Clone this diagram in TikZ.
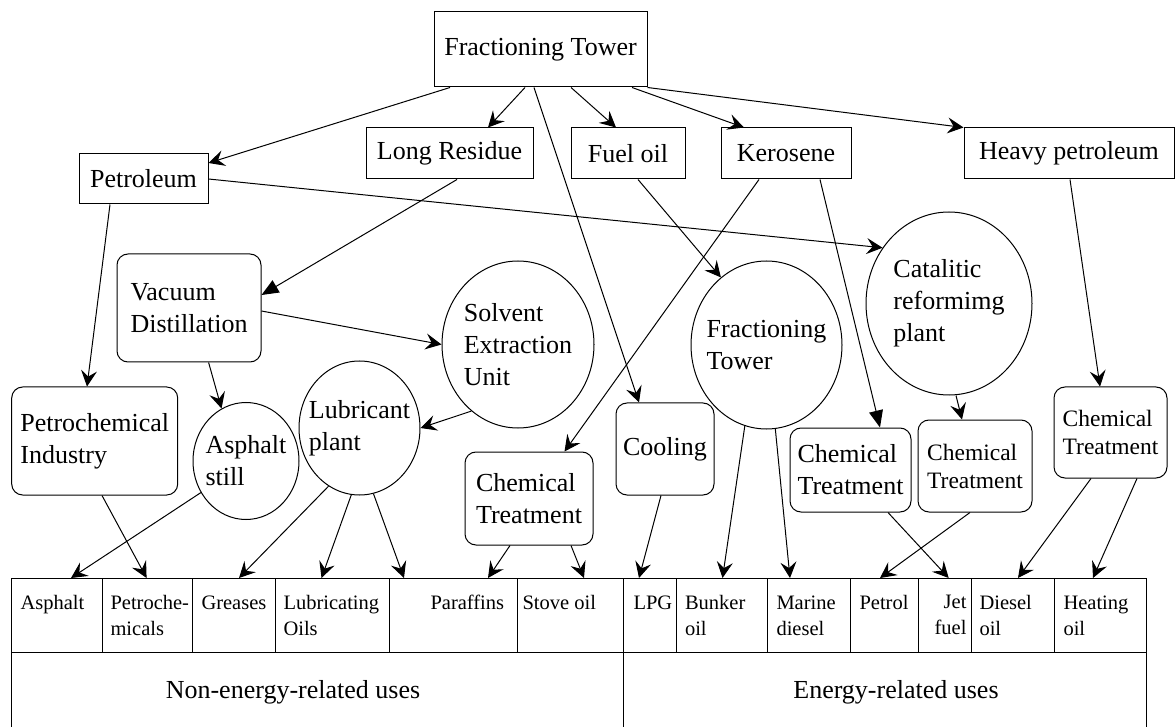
\documentclass[tikz,border=0pt]{standalone}
\usepackage{fontspec}
\setmainfont{Liberation Serif}
\usetikzlibrary{arrows.meta,shapes.geometric}

\begin{document}
\begin{tikzpicture}[x=1pt, y=-1pt, line width=1pt,
    >={Stealth[length=16pt,width=16pt,inset=6pt]},
    big/.style={font=\fontsize{26}{32}\selectfont},
    small/.style={font=\fontsize{23.5}{28}\selectfont},
    box/.style={draw, big, inner sep=0pt},
    rbox/.style={box, rounded corners=11pt, align=left},
    oval/.style={draw, ellipse, big, align=left, inner xsep=-16pt, inner ysep=-6pt},
    cell/.style={anchor=north west, inner sep=0pt, align=left, font=\fontsize{20.5}{26}\selectfont},
    fat/.style={-{Triangle[length=17pt,width=14pt]}}]
    \useasboundingbox (0,0) rectangle (1176,727);

    % first split
    \node[box, minimum width=213pt, minimum height=75pt] (top) at (540.5,49.5) {Fractioning Tower};
    \node[box, minimum width=129pt, minimum height=50pt] (petroleum) at (143.5,179) {Petroleum};
    \node[box, minimum width=167pt, minimum height=51pt] (residue) at (449.5,153.5) {Long Residue};
    \node[box, minimum width=114pt, minimum height=51pt] (fueloil) at (628,153.5) {Fuel oil};
    \node[box, minimum width=130pt, minimum height=51pt] (kerosene) at (786,153.5) {Kerosene};
    \node[box, minimum width=210pt, minimum height=51pt] (heavy) at (1069,153.5) {Heavy petroleum};

    % plants
    \node[rbox, minimum width=144pt, minimum height=108pt] (vacuum) at (189,308) {Vacuum\\Distillation};
    \node[rbox, minimum width=166pt, minimum height=108pt] (petrochem) at (94.7,441) {Petrochemical\\Industry};
    \node[oval, minimum width=106pt, minimum height=117pt] (asphalt) at (246,461) {Asphalt\\still};
    \node[oval, minimum width=121pt, minimum height=134pt] (lubricant) at (359.5,428) {Lubricant\\plant};
    \node[oval, minimum width=152pt, minimum height=167pt] (solvent) at (518,344.5) {Solvent\\Extraction\\Unit};
    \node[rbox, minimum width=128pt, minimum height=93pt] (chemA) at (529,498.5) {Chemical\\Treatment};
    \node[rbox, minimum width=98pt, minimum height=92pt] (cooling) at (665,449) {Cooling};
    \node[oval, minimum width=151pt, minimum height=168pt] (tower) at (766.5,345) {Fractioning\\Tower};
    \node[oval, minimum width=166pt, minimum height=183pt] (reform) at (949,303.5) {Catalitic\\reformimg\\plant};
    \node[rbox, minimum width=121pt, minimum height=84pt] (chemB) at (850.5,470) {Chemical\\Treatment};
    \node[rbox, small, minimum width=114pt, minimum height=92pt] (chemC) at (975,466) {Chemical\\Treatment};
    \node[rbox, small, minimum width=113pt, minimum height=91pt] (chemD) at (1110.5,432.5) {Chemical\\Treatment};

    % table of uses
    \node[draw, anchor=north west, inner sep=0pt, minimum width=1135pt, minimum height=74pt] (row) at (11,578) {};
    \draw (11,652) rectangle (1146,745);
    \draw (623.7,652) -- (623.7,745);
    \foreach \x in {102,192.5,275.5,389.6,517.4,623.7,676,767,850,918,971.5,1054}
        \draw (\x,578) -- (\x,652);

    \node[cell] (c1) at (20,595) {Asphalt};
    \node[cell] (c2) at (110,595) {Petroche-\\micals};
    \node[cell] (c3) at (201,595) {Greases};
    \node[cell] (c4) at (283,595) {Lubricating\\Oils};
    \node[cell] (c5) at (430,595) {Paraffins};
    \node[cell] (c6) at (522,595) {Stove oil};
    \node[cell] (c7) at (633,595) {LPG};
    \node[cell] (c8) at (684.5,595) {Bunker\\oil};
    \node[cell] (c9) at (776,595) {Marine\\diesel};
    \node[cell] (c10) at (859,595) {Petrol};
    \node[cell, anchor=north east, align=right] (c11) at (967,595) {Jet\\fuel};
    \node[cell] (c12) at (979,595) {Diesel\\oil};
    \node[cell] (c13) at (1063,595) {Heating\\oil};

    \node[big, anchor=base] (nonenergy) at (293,698) {Non-energy-related uses};
    \node[big, anchor=base] (energy) at (896,698) {Energy-related uses};

    % arrows from the tower
    \draw[->] ([xshift=-90.5pt]top.south) -- ([yshift=16pt]petroleum.east);
    \draw[->] ([xshift=-15.5pt]top.south) -- ([xshift=38.5pt]residue.north);
    \draw[->] ([xshift=-6.5pt]top.south) -- ([xshift=-26pt]cooling.north);
    \draw[->] ([xshift=30.5pt]top.south) -- ([xshift=-12pt]fueloil.north);
    \draw[->] ([xshift=91.5pt]top.south) -- ([xshift=-42pt]kerosene.north);
    \draw[->] (top.south east) -- (heavy.north west);

    % middle arrows
    \draw[->] (petroleum.east) -- (reform.140);
    \draw[->] ([xshift=-33.5pt]petroleum.south) -- ([xshift=-7.7pt]petrochem.north);
    \draw[fat] ([xshift=7.5pt]residue.south) -- ([yshift=13pt]vacuum.east);
    \draw[->] ([yshift=-3pt]vacuum.east) -- (solvent.west);
    \draw[->] ([xshift=19.6pt]vacuum.south) -- (asphalt.115);
    \draw[->] (solvent.235) -- (lubricant.east);
    \draw[->] ([xshift=-27pt]kerosene.south) -- ([xshift=35.5pt]chemA.north);
    \draw[->] ([xshift=10pt]fueloil.south) -- (tower.124);
    \draw[fat] ([xshift=34pt]kerosene.south) -- ([xshift=29.5pt]chemB.north);
    \draw[->] ([xshift=7pt]reform.south) -- ([xshift=-13pt]chemC.north);
    \draw[->] ([xshift=1pt]heavy.south) -- ([xshift=-10.5pt]chemD.north);

    % arrows into the table
    \draw[->] (asphalt.215) -- ([xshift=60pt]row.north west);
    \draw[->] ([xshift=7.3pt]petrochem.south) -- ([xshift=135.6pt]row.north west);
    \draw[->] (lubricant.242) -- ([xshift=228pt]row.north west);
    \draw[->] (lubricant.263) -- ([xshift=310.5pt]row.north west);
    \draw[->] (lubricant.282) -- ([xshift=393pt]row.north west);
    \draw[->] ([xshift=-19pt]chemA.south) -- ([xshift=477pt]row.north west);
    \draw[->] ([xshift=42pt]chemA.south) -- ([xshift=573pt]row.north west);
    \draw[->] ([xshift=-4pt]cooling.south) -- ([xshift=628pt]row.north west);
    \draw[->] (tower.255) -- ([xshift=711.5pt]row.north west);
    \draw[->] (tower.276) -- ([xshift=779pt]row.north west);
    \draw[->] ([xshift=37.5pt]chemB.south) -- ([xshift=937.7pt]row.north west);
    \draw[->] ([xshift=-5pt]chemC.south) -- ([xshift=869pt]row.north west);
    \draw[->] ([xshift=-19.5pt]chemD.south) -- ([xshift=1007pt]row.north west);
    \draw[->] ([xshift=26.5pt]chemD.south) -- ([xshift=1082pt]row.north west);
\end{tikzpicture}
\end{document}
